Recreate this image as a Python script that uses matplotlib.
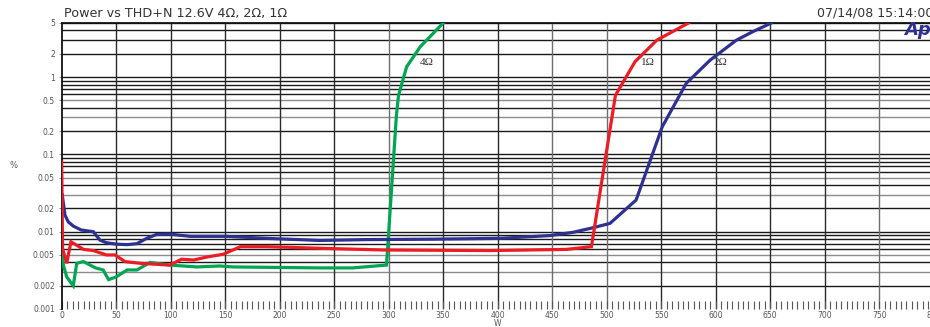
import matplotlib
matplotlib.use("Agg")
import matplotlib.pyplot as plt
from matplotlib.ticker import FixedLocator, MultipleLocator, NullFormatter, NullLocator

plt.rcParams['font.family'] = ['DejaVu Sans']

# Output power (W) and THD+N (%) for each load
w_4ohm = [0, 1.5, 4.6, 10.6, 13.8, 20, 31, 38, 43, 50, 60, 69, 81, 99, 124, 145, 157,
          237, 267, 298, 307, 309, 316.5, 329, 350]
thd_4ohm = [0.0071, 0.0037, 0.0026, 0.0020, 0.0039, 0.0041, 0.0034, 0.0032, 0.0024, 0.0026,
            0.0032, 0.0032, 0.0040, 0.0037, 0.0035, 0.0036, 0.0035, 0.0034, 0.0034, 0.0037,
            0.31, 0.58, 1.36, 2.47, 5.0]

w_2ohm = [0.5, 3, 6, 10.7, 18, 29, 35, 41, 50, 60, 69, 78, 87, 99, 118, 151, 188, 237, 280,
          341, 402, 448, 469, 488, 503, 527, 551, 573, 595, 619, 634, 651]
thd_2ohm = [0.030, 0.0164, 0.0134, 0.0118, 0.0105, 0.0100, 0.0078, 0.0072, 0.0069, 0.0068,
            0.0070, 0.0082, 0.0092, 0.0093, 0.0087, 0.0087, 0.0082, 0.0077, 0.0079, 0.0080,
            0.0082, 0.0089, 0.0098, 0.0113, 0.0128, 0.0257, 0.228, 0.83, 1.66, 3.0, 3.86, 5.0]

w_1ohm = [0, 0.8, 4.6, 8.5, 20, 29, 41, 49, 58, 72, 99, 110, 121, 133, 148, 164, 188, 237,
          295, 393, 463, 486, 508, 526, 546, 575]
thd_1ohm = [0.080, 0.0060, 0.0039, 0.0074, 0.0059, 0.0057, 0.0050, 0.0050, 0.0041, 0.0039,
            0.0037, 0.0044, 0.0043, 0.0047, 0.0051, 0.0064, 0.0064, 0.0061, 0.0058, 0.0057,
            0.0059, 0.0064, 0.58, 1.58, 3.0, 5.0]

y_ticks = [5, 2, 1, 0.5, 0.2, 0.1, 0.05, 0.02, 0.01, 0.005, 0.002, 0.001]
y_tick_labels = ["5", "2", "1", "0.5", "0.2", "0.1", "0.05", "0.02", "0.01", "0.005",
                 "0.002", "0.001"]
x_ticks = list(range(0, 801, 50))
x_tick_labels = [str(v) for v in x_ticks]

curve_labels = ["4\u03a9", "1\u03a9", "2\u03a9"]

C_GREEN = "#00a651"
C_BLUE = "#2e3192"
C_RED = "#ed1c24"

fig = plt.figure(figsize=(9.3, 3.27), dpi=100)
ax = fig.add_axes([61.7 / 930, 18 / 327, 872 / 930, 286 / 327])
ax.set_yscale("log")
ax.set_xlim(0, 800)
ax.set_ylim(0.001, 5)

# Grid: every 1..9 step per decade horizontally, every 50 W vertically
for exp in (-3, -2, -1, 0):
    for m in range(1, 10):
        v = m * 10 ** exp
        if 0.001 < v <= 5:
            col = "#8c8c8c" if m in (3, 5) and exp < 0 else "#1a1a1a"
            ax.axhline(v, color=col, lw=1.0, zorder=1)
for xv in x_ticks[1:]:
    col = "#6e6e6e" if xv in (300, 450, 500, 750) else "#2a2a2a"
    ax.axvline(xv, color=col, lw=1.0, zorder=1)

ax.plot(w_4ohm, thd_4ohm, color=C_GREEN, lw=2.3, zorder=3, solid_joinstyle="miter")
ax.plot(w_2ohm, thd_2ohm, color=C_BLUE, lw=2.3, zorder=4, solid_joinstyle="miter")
ax.plot(w_1ohm, thd_1ohm, color=C_RED, lw=2.3, zorder=5, solid_joinstyle="miter")

# Spines
for s in ("right", "bottom"):
    ax.spines[s].set_visible(False)
ax.spines["left"].set_linewidth(1.3)
ax.spines["left"].set_color("#111111")
ax.spines["top"].set_linewidth(1.3)
ax.spines["top"].set_color("#111111")

# Ticks
ax.yaxis.set_major_locator(FixedLocator(y_ticks))
ax.set_yticklabels(y_tick_labels)
ax.yaxis.set_minor_locator(NullLocator())
ax.yaxis.set_minor_formatter(NullFormatter())
ax.tick_params(axis="y", which="major", length=2, width=0.6, color="#777777",
               labelsize=5.5, labelcolor="#555555", pad=3)

ax.xaxis.set_major_locator(FixedLocator(x_ticks))
ax.set_xticklabels(x_tick_labels)
ax.xaxis.set_minor_locator(MultipleLocator(5))
ax.tick_params(axis="x", which="both", direction="in", length=6, width=0.8,
               color="#555555", labelsize=5.5, labelcolor="#555555", pad=1.5)

# Axis titles
fig.text(497 / 930, 1 - 323.5 / 327, "W", fontsize=5.5, color="#555555",
         ha="center", va="center")
fig.text(13 / 930, 1 - 166 / 327, "%", fontsize=6, color="#555555", ha="center", va="center")

# Header texts
fig.text(64 / 930, 1 - 13 / 327, "Power vs THD+N 12.6V 4\u03a9, 2\u03a9, 1\u03a9",
         fontsize=9.2, color="#333333", ha="left", va="center")
fig.text(933 / 930, 1 - 13 / 327, "07/14/08 15:14:00", fontsize=9, color="#333333",
         ha="right", va="center")
fig.text(904 / 930, 1 - 30 / 327, "Ap", fontsize=13, color=C_BLUE, ha="left", va="center",
         fontweight="bold", fontstyle="italic")

# Curve annotations
label_kw = dict(fontsize=8, family="Liberation Serif", color="#333333",
                ha="center", va="center", zorder=6)
ax.text(335, 1.55, curve_labels[0], **label_kw)
ax.text(538, 1.55, curve_labels[1], **label_kw)
ax.text(604, 1.55, curve_labels[2], **label_kw)

fig.savefig("out.png", dpi=100)
